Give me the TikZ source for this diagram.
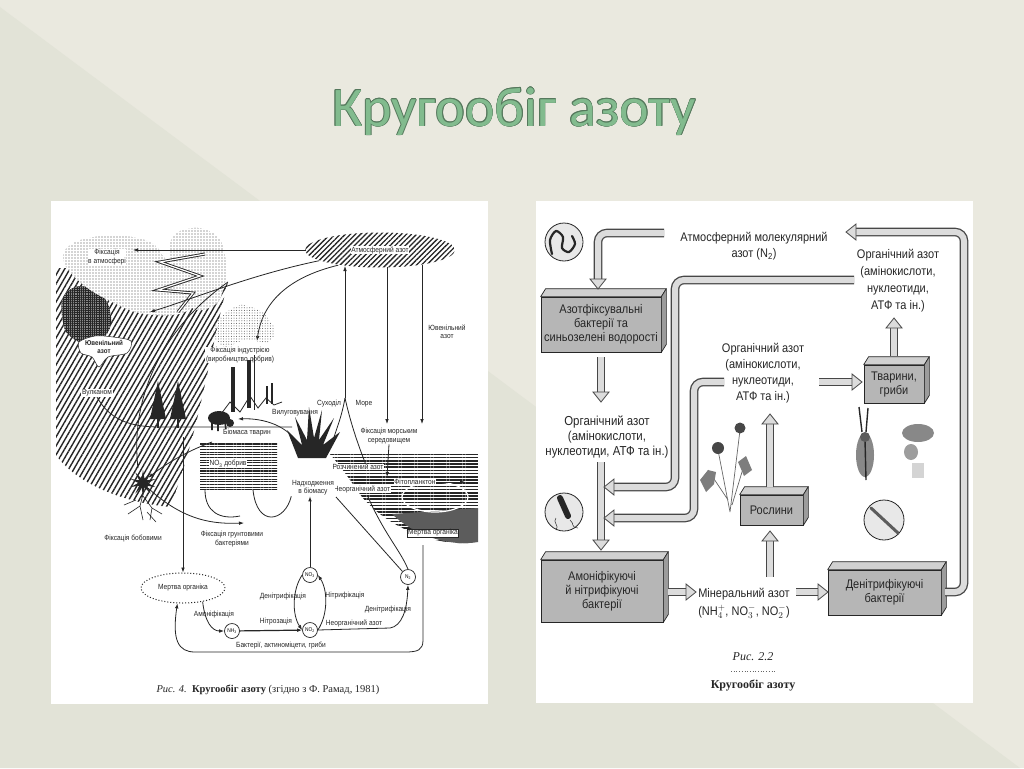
\documentclass[tikz,border=0pt]{standalone}
\usepackage{fontspec}
\setmainfont{Liberation Serif}
\newfontfamily\titlefont{Carlito}
\newfontfamily\nar[FakeStretch=0.88]{Liberation Sans}
\usetikzlibrary{patterns.meta,arrows.meta,calc,shapes.geometric}
\definecolor{bgA}{HTML}{EAE9DF}
\definecolor{bgB}{HTML}{E2E3D7}
\definecolor{ttl}{HTML}{82BB8E}
\definecolor{ttlo}{HTML}{55785C}
\definecolor{boxf}{HTML}{B6B6B6}
\definecolor{boxt}{HTML}{D0D0D0}
\definecolor{boxs}{HTML}{9C9C9C}
\definecolor{pipef}{HTML}{DCDCDC}
\definecolor{ink}{HTML}{262626}
\tikzset{
 rt/.style={font=\nar\fontsize{12.5}{16}\selectfont, text=ink, align=center, inner sep=0pt},
 bx/.style={draw=ink, line width=.7pt, fill=boxf, align=center, font=\nar\fontsize{12.5}{14}\selectfont, text=ink, inner sep=0pt},
 pipe/.style={draw=pipef, line width=6pt, rounded corners=9pt, preaction={draw=ink!85, line width=8.6pt}},
 hd/.pic={\draw[fill=pipef, draw=ink!85, line width=.8pt, line join=miter] (0,-8) -- (10,0) -- (0,8) -- cycle;},
 cimg/.style={circle, draw=ink, line width=.8pt, fill=gray!18, inner sep=0pt},
 lt/.style={font=\nar\fontsize{7.5}{8.3}\selectfont, text=ink, align=center, inner sep=.6pt},
 lw/.style={lt, fill=white},
 ar/.style={-{Latex[length=5pt,width=3.6pt]}, line width=.8pt, draw=ink},
 ln/.style={line width=.8pt, draw=ink},
 cn/.style={circle, draw=ink, line width=.7pt, fill=white, minimum size=15pt, inner sep=0pt, font=\nar\fontsize{5.5}{6}\selectfont},
}
\newcommand\boxfaces[1]{%
 \filldraw[fill=boxt, draw=ink, line width=.7pt, line join=round] (#1.north west) -- ++(5,-8) -- ($(#1.north east)+(5,-8)$) -- (#1.north east) -- cycle;
 \filldraw[fill=boxs, draw=ink, line width=.7pt, line join=round] (#1.north east) -- ++(5,-8) -- ($(#1.south east)+(5,-8)$) -- (#1.south east) -- cycle;}
\begin{document}
\begin{tikzpicture}[x=1pt,y=-1pt]
\useasboundingbox (0,0) rectangle (1024,768);
\fill[bgA] (0,0) rectangle (1024,768);
\fill[bgB] (0,7) -- (1020,768) -- (0,768) -- cycle;
% title
\foreach \dx/\dy in {-.6/0,.6/0,0/-.6,0/.6,-.45/-.45,.45/.45,-.45/.45,.45/-.45}
  \node[anchor=base, font=\titlefont\fontsize{56}{56}\selectfont, text=ttlo] at (514+\dx,126+\dy) {Кругообіг азоту};
\node[anchor=base, font=\titlefont\fontsize{56}{56}\selectfont, text=ttl] (title) at (514,126) {Кругообіг азоту};
% panels
\fill[white] (51,201) rectangle (488,704);
\fill[white] (536,201) rectangle (973,703);

%================ LEFT DIAGRAM =================
% hatched mountain
\fill[pattern={Lines[angle=60,distance=4.5pt,line width=1.4pt]}, pattern color=ink]
  (56,268) -- (180,268) .. controls (200,272) and (215,276) .. (228,282)
  .. controls (210,350) and (200,430) .. (170,507)
  .. controls (120,502) and (75,482) .. (56,455) -- cycle;
% dark blob
\fill[ink!55] plot[smooth cycle] coordinates {(62,300)(75,287)(95,289)(108,304)(111,325)(101,340)(82,343)(65,330)};
\fill[pattern={Hatch[distance=2.2pt,line width=.7pt]}, pattern color=ink] plot[smooth cycle] coordinates {(62,300)(75,287)(95,289)(108,304)(111,325)(101,340)(82,343)(65,330)};
% clouds
\fill[white] plot[smooth cycle, tension=.7] coordinates {(63,258)(78,241)(115,236)(150,242)(168,262)(193,290)(185,312)(145,314)(112,302)(80,282)};
\fill[pattern={Dots[distance=3pt,radius=.55pt]}, pattern color=ink!85] plot[smooth cycle, tension=.7] coordinates {(63,258)(78,241)(115,236)(150,242)(168,262)(193,290)(185,312)(145,314)(112,302)(80,282)};
\fill[white] plot[smooth cycle] coordinates {(170,245)(182,230)(205,229)(222,243)(226,275)(218,302)(198,310)(178,295)};
\fill[pattern={Dots[distance=3pt,radius=.55pt]}, pattern color=ink!85] plot[smooth cycle] coordinates {(170,245)(182,230)(205,229)(222,243)(226,275)(218,302)(198,310)(178,295)};
% lightning
\draw[ink, line width=3pt, line join=miter] (205,254) -- (160,262) -- (200,276) -- (158,290) -- (193,293) -- (178,312);
\draw[white, line width=1.2pt, line join=miter] (205,254) -- (160,262) -- (200,276) -- (158,290) -- (193,293) -- (178,312);
% juvenile cloud
\filldraw[fill=white, draw=ink, line width=.5pt] plot[smooth cycle] coordinates {(79,342)(95,336)(113,337)(131,341)(127,353)(108,357)(99,367)(92,357)(81,353)};
\node[lt, font=\nar\bfseries\fontsize{7}{7.6}\selectfont] (juv1) at (104,347) {Ювенільний\\азот};
% atmosphere ellipse
\node[ellipse, minimum width=150pt, minimum height=35pt, pattern={Lines[angle=45,distance=3.6pt,line width=1.3pt]}, pattern color=ink] (atm) at (380,250) {};
\node[lw] (atml) at (380,250) {Атмосферний азот};
\node[lw] (fixatm) at (107,257) {Фіксація\\в атмосфері};
\coordinate (aw) at (306,250);
\coordinate (fa) at (133,250);
\draw[ar] (aw) -- (fa);
\draw[ar] (atm.190) .. controls (250,275) and (190,300) .. (150,312);
\coordinate (indt) at (257,341);
\draw[ar] (atm.200) .. controls (285,278) and (262,305) .. (indt);
\draw[ln] (228,282) .. controls (160,330) and (130,400) .. (138,468);
% smoke dots
\fill[pattern={Dots[distance=2.6pt,radius=.5pt]}, pattern color=ink!80] plot[smooth cycle] coordinates {(213,335)(220,318)(240,305)(262,312)(275,330)(268,342)(245,340)(225,347)};
\node[lw] (ind) at (240,355) {Фіксація індустрією\\(виробництво добрив)};
\node[lw] (vulk) at (97,393) {Вулканом};
% ground
\draw[ln] (vulk.south) .. controls (110,420) and (130,427) .. (160,427) -- (292,427);
% trees
\fill[ink] (158,381) -- (150,419) -- (166,419) -- cycle;
\fill[ink] (178,381) -- (170,419) -- (186,419) -- cycle;
\draw[ink, line width=1.6pt] (158,418) -- (158,428) (178,418) -- (178,428);
% chimneys
\fill[ink] (231,367) rectangle (235,412);
\fill[ink] (247,360) rectangle (251,408);
\fill[ink] (266,386) rectangle (268,404);
\fill[ink] (271,383) rectangle (273,404);
\draw[ink, line width=.6pt] (254,355) -- (254,410);
\draw[ln] (218,418) -- (230,402) -- (240,412) -- (250,396) -- (258,408) -- (266,398) -- (274,405) -- (282,402);
% bison
\fill[ink] (219,418) ellipse [x radius=11, y radius=7];
\fill[ink] (230,423) circle [radius=4];
\draw[ink, line width=1.6pt] (212,421) -- (212,430) (218,423) -- (218,431) (225,422) -- (226,430);
\node[lw] (vyl) at (295,413) {Вилуговування};
\node[lw] (biom) at (247,433) {Біомаса тварин};
% fertilizer block
\fill[pattern={Lines[angle=0,distance=2.7pt,line width=1.1pt]}, pattern color=ink] (200,442) rectangle (277,490);
\node[lw] (no3f) at (228,464) {NO\textsubscript{3} добрив};
% sea / land boundary
\node[lt] (sukh) at (329,404) {Суходіл};
\node[lt] (more) at (364,404) {Море};
\coordinate (sl) at (345,398);
\coordinate (slt) at (345,266);
\draw[ar] (sl) -- (slt);
\draw[ln] (sl) .. controls (342,415) and (338,425) .. (333,440);
\draw[ln] (sl) .. controls (350,420) and (356,440) .. (368,470);
\coordinate (d1a) at (387,267); \coordinate (d1b) at (387,424);
\coordinate (d2a) at (422,265); \coordinate (d2b) at (422,424);
\draw[ar] (d1a) -- (d1b);
\draw[ar] (d2a) -- (d2b);
\node[lt] (juv2) at (447,332) {Ювенільний\\азот};
\node[lt] (fms) at (389,436) {Фіксація морським\\середовищем};
% water
\fill[pattern={Lines[angle=0,distance=3.2pt,line width=1.5pt]}, pattern color=ink]
  (328,452) -- (478,452) -- (478,542) .. controls (440,548) and (390,530) .. (362,497) .. controls (350,480) and (340,465) .. (328,452) -- cycle;
\fill[ink!75] (392,514) -- (478,508) -- (478,542) .. controls (450,547) and (415,536) .. (392,514) -- cycle;
\draw[white, line width=1.2pt] (435,497) ellipse [x radius=33, y radius=15];
\node[lw] (rozch) at (358,467) {Розчинений азот};
\node[lw] (neorgw) at (362,489) {Неорганічний азот};
\node[lw] (fito) at (415,482) {Фітопланктон};
\node[lw, draw=ink, line width=.5pt] (mow) at (433,533) {Мертва органіка};
\coordinate (fmsb) at (387,477);
\draw[ar] (fms.south) -- (fmsb);
\coordinate (fish) at (465,482);
\draw[ar] (fito.east) -- (fish);
% grass
\fill[ink] (298,458) -- (287,430) -- (302,445) -- (295,417) -- (307,440) -- (309,407) -- (314,438) -- (322,410) -- (319,440) -- (334,418) -- (323,445) -- (340,432) -- (326,458) -- cycle;
\node[lw] (nadh) at (313,488) {Надходження\\в біомасу};
\coordinate (bis) at (238,419);
\draw[ar] (300,448) .. controls (290,425) and (262,418) .. (bis);
% legume plant
\node[star, star points=10, star point ratio=2.8, fill=ink, minimum size=26pt, inner sep=0pt] (plant) at (143,483) {};
\draw[ink, line width=.6pt] (143,494) -- (140,506) -- (128,514) (140,506) -- (143,520) (143,496) -- (152,508) -- (162,514) (152,508) -- (150,520) (136,500) -- (124,505) (147,512) -- (156,522);
\draw[ar] (212,442) .. controls (190,450) and (168,462) .. (plant.north east);
\node[lt] (fbob) at (133,538) {Фіксація бобовими};
\node[lt] (fgr) at (232,539) {Фіксація грунтовими\\бактеріями};
\coordinate (fgrt) at (244,523);
\draw[ar] (plant.south east) .. controls (185,522) and (215,524) .. (fgrt);
\draw[ln] (205,490) .. controls (205,512) and (220,520) .. (240,516);
\draw[ln] (nadh.south west) .. controls (285,522) and (257,528) .. (253,490);
% dead organic & cycle
\node[ellipse, draw=ink, dotted, line width=1pt, minimum width=84pt, minimum height=30pt, lt] (mo) at (183,588) {Мертва органіка};
\coordinate (vtop) at (183,437);
\draw[ar] (vtop) -- (mo.north);
\node[cn] (cNO3) at (310,575) {NO\textsubscript{3}};
\node[cn] (cNO2) at (310,630) {NO\textsubscript{2}};
\node[cn] (cNH3) at (232,631) {NH\textsubscript{3}};
\node[cn] (cN2) at (408,577) {N\textsubscript{2}};
\draw[ar] (cNO3.north) -- (cNO3.north |- nadh.south);
\draw[ar, line width=1.2pt] (cNH3) -- (cNO2);
\draw[ar] (mo.-35) .. controls (205,622) and (212,631) .. (cNH3.west);
\draw[ar] (cNO3.west) .. controls (292,590) and (292,615) .. (cNO2.west);
\draw[ar] (cNO2.east) .. controls (328,615) and (328,590) .. (cNO3.east);
\draw[ar] (cNO2.east) -- (390,628) .. controls (402,626) and (407,610) .. (cN2.south);
\draw[ln] (336,497) -- (cN2.135);
\draw[ln] (368,497) .. controls (385,535) and (400,550) .. (cN2.north);
\coordinate (wb) at (423,545);
\draw[ar] (wb) -- (423,640) .. controls (423,650) and (418,652) .. (405,652) -- (195,652) .. controls (178,652) and (172,640) .. (mo.-110);
\node[lt] (denl) at (283,597) {Денітрифікація};
\node[lt] (nitr) at (345,596) {Нітрифікація};
\node[lt] (amon) at (214,615) {Амоніфікація};
\node[lt] (nitroz) at (276,622) {Нітрозація};
\node[lt] (neorg) at (354,623) {Неорганічний азот};
\node[lt] (denr) at (388,610) {Денітрифікація};
\node[lt] (bakt) at (281,646) {Бактерії, актиноміцети, гриби};
\node[font=\fontsize{10.5}{13}\selectfont, text=ink] (capL) at (268,690) {\textit{Рис. 4.}\ \ \textbf{Кругообіг азоту} (згідно з Ф. Рамад, 1981)};

%================ RIGHT DIAGRAM =================
\node[cimg, minimum size=38pt] (c1) at (564,242) {};
\draw[ink, line width=2.2pt, line cap=round] plot[smooth] coordinates {(552,254)(550,240)(556,231)(563,237)(562,248)(569,252)(575,244)(572,236)};
\node[cimg, minimum size=38pt] (c2) at (564,512) {};
\draw[ink, line width=6pt, line cap=round] (560,498) -- (568,516);
\draw[ink, line width=.5pt] (556,518) .. controls (552,522) and (560,526) .. (556,530) (570,520) .. controls (575,524) and (570,527) .. (578,528);
\node[cimg, minimum size=40pt] (c3) at (884,520) {};
\draw[ink!75, line width=3pt, line cap=round] (871,508) -- (898,533);

\node[bx, minimum width=120pt, minimum height=55pt] (b1) at (601,324.5) {Азотфіксувальні\\бактерії та\\синьозелені водорості};
\boxfaces{b1}
\node[bx, minimum width=122pt, minimum height=62pt] (b2) at (602,591) {Амоніфікуючі\\й нітрифікуючі\\бактерії};
\boxfaces{b2}
\node[bx, minimum width=113pt, minimum height=45pt] (b3) at (884.5,592.5) {Денітрифікуючі\\бактерії};
\boxfaces{b3}
\node[bx, minimum width=63pt, minimum height=30pt] (b4) at (771.5,510) {Рослини};
\boxfaces{b4}
\node[bx, minimum width=60pt, minimum height=38pt] (b5) at (894,384) {Тварини,\\гриби};
\boxfaces{b5}

\node[rt] (atmN) at (754,246) {Атмосферний молекулярний\\азот (N\textsubscript{2})};
\node[rt, font=\nar\fontsize{13}{15}\selectfont] (orgL) at (607,437) {Органічний азот\\(амінокислоти,\\нуклеотиди, АТФ та ін.)};
\node[rt] (orgM) at (763,373) {Органічний азот\\(амінокислоти,\\нуклеотиди,\\АТФ та ін.)};
\node[rt, font=\nar\fontsize{12.5}{17}\selectfont] (orgR) at (898,281) {Органічний азот\\(амінокислоти,\\нуклеотиди,\\АТФ та ін.)};
\node[rt, font=\nar\fontsize{12.5}{18}\selectfont] (minN) at (744,603) {Мінеральний азот\\(NH$_4^+$, NO$_3^-$, NO$_2^-$)};

% pipes
\coordinate (p1s) at (664,233); \coordinate (p1e) at (598,279);
\draw[pipe] (p1s) -| (p1e); \pic[rotate=-90] at (p1e) {hd};
\coordinate (p2s) at (601,357); \coordinate (p2e) at (601,392);
\draw[pipe] (p2s) -- (p2e); \pic[rotate=-90] at (p2e) {hd};
\coordinate (p3s) at (601,462); \coordinate (p3e) at (601,540);
\draw[pipe] (p3s) -- (p3e); \pic[rotate=-90] at (p3e) {hd};
\coordinate (pAs) at (854,280); \coordinate (pAe) at (614,487);
\draw[pipe] (pAs) -- (675,280) -- (675,487) -- (pAe); \pic[rotate=180] at (pAe) {hd};
\coordinate (pBs) at (724,382); \coordinate (pBe) at (614,518);
\draw[pipe] (pBs) -- (694,382) -- (694,518) -- (pBe); \pic[rotate=180] at (pBe) {hd};
\coordinate (pCs) at (945,592); \coordinate (pCe) at (856,232);
\draw[pipe] (pCs) -- (964,592) -- (964,232) -- (pCe); \pic[rotate=180] at (pCe) {hd};
\coordinate (pDs) at (894,356); \coordinate (pDe) at (894,328);
\draw[pipe] (pDs) -- (pDe); \pic[rotate=90] at (pDe) {hd};
\coordinate (pEs) at (819,382); \coordinate (pEe) at (852,382);
\draw[pipe] (pEs) -- (pEe); \pic at (pEe) {hd};
\coordinate (pFs) at (770,487); \coordinate (pFe) at (770,424);
\draw[pipe] (pFs) -- (pFe); \pic[rotate=90] at (pFe) {hd};
\coordinate (pGs) at (770,577); \coordinate (pGe) at (770,541);
\draw[pipe] (pGs) -- (pGe); \pic[rotate=90] at (pGe) {hd};
\coordinate (pHs) at (668,592); \coordinate (pHe) at (686,592);
\draw[pipe] (pHs) -- (pHe); \pic at (pHe) {hd};
\coordinate (pIs) at (796,592); \coordinate (pIe) at (818,592);
\draw[pipe] (pIs) -- (pIe); \pic at (pIe) {hd};

% plants
\draw[ink!70, line width=.7pt] (730,512) -- (740,430) (730,512) -- (718,450) (732,505) -- (745,462) (728,500) -- (708,470);
\fill[ink!60] (708,470) -- (700,480) -- (706,492) -- (714,484) -- (716,472) -- cycle;
\fill[ink!60] (738,462) -- (746,456) -- (752,470) -- (744,476) -- cycle;
\fill[ink!85] (740,428) circle [radius=5.5];
\fill[ink!85] (718,448) circle [radius=6];
% rabbit
\fill[ink!55] (865,455) ellipse [x radius=9, y radius=22];
\draw[ink, line width=1.4pt] (859,407) -- (862,432) (868,408) -- (866,432) (865,440) -- (866,480);
\fill[ink!75] (865,437) circle [radius=5];
% mushroom
\fill[ink!55] (918,433) ellipse [x radius=16, y radius=9];
\fill[ink!45] (911,452) ellipse [x radius=7, y radius=8];
\fill[ink!20] (912,463) rectangle (924,478);

% caption right
\node[font=\itshape\fontsize{12}{14}\selectfont, text=ink] (capR1) at (753,657) {Рис. 2.2};
\draw[dotted, line width=.7pt, ink!70] (731,671) -- (776,671);
\node[font=\bfseries\fontsize{12}{14}\selectfont, text=ink] (capR2) at (753,685) {Кругообіг азоту};
\end{tikzpicture}
\end{document}
